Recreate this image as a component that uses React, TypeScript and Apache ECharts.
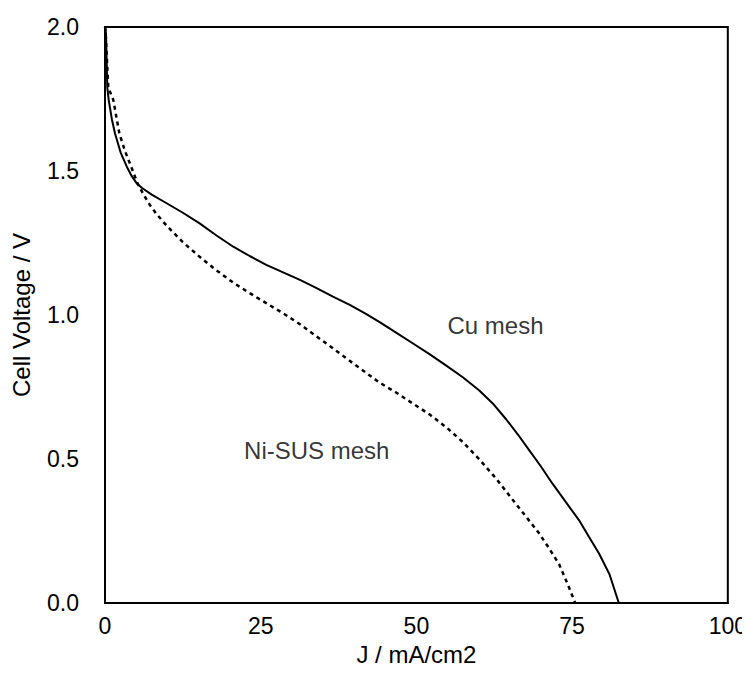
import React, { useEffect, useRef } from "react";
import * as echarts from "echarts";

const cuMesh: [number, number][] = [
  [0, 2.0], [0.16, 1.979], [0.37, 1.79], [0.59, 1.747], [1.1, 1.68], [1.6, 1.631],
  [2.5, 1.565], [3.5, 1.515], [4.3, 1.482], [5.1, 1.457], [6.0, 1.44], [7.5, 1.418],
  [9.9, 1.388], [12.5, 1.355], [15.2, 1.318],
  [17.9, 1.276], [20.6, 1.237], [23.3, 1.204], [25.9, 1.174], [28.6, 1.148],
  [31.3, 1.122], [33.9, 1.094], [36.6, 1.064], [39.3, 1.035], [41.9, 1.004],
  [44.1, 0.975], [46.8, 0.938], [49.4, 0.902], [52.1, 0.864], [54.8, 0.824],
  [57.5, 0.783], [60.1, 0.738], [62.3, 0.692], [64.4, 0.638], [66.3, 0.585],
  [68.1, 0.531], [70.0, 0.474], [71.8, 0.416], [74.0, 0.35], [76.1, 0.288],
  [77.7, 0.23], [79.3, 0.173], [81.0, 0.1], [82.5, 0.0],
];

const niSusMesh: [number, number][] = [
  [0, 2.0], [0.08, 1.99], [0.53, 1.79], [1.33, 1.747], [2.3, 1.631], [3.2, 1.57],
  [4.2, 1.515], [5.2, 1.458], [6.1, 1.422], [7.2, 1.382], [8.3, 1.35], [9.9, 1.31],
  [12.5, 1.253], [15.2, 1.202], [17.9, 1.155], [20.6, 1.112], [23.3, 1.075],
  [25.9, 1.041], [28.6, 1.006], [31.3, 0.968], [33.7, 0.93], [36.1, 0.892],
  [40.1, 0.828], [44.1, 0.765], [46.8, 0.73], [49.4, 0.693], [52.1, 0.655],
  [54.8, 0.61], [57.5, 0.558], [60.1, 0.499], [62.8, 0.432], [65.4, 0.36],
  [67.6, 0.3], [69.7, 0.242], [71.3, 0.19], [72.9, 0.135], [74.2, 0.07], [75.5, 0.0],
];

const xTicks = [0, 25, 50, 75, 100];
const yTicks = [0, 0.5, 1.0, 1.5, 2.0];

const curveLabels = [
  { name: "Cu mesh", value: [62.7, 0.962] },
  { name: "Ni-SUS mesh", value: [34.0, 0.528] },
];

const FONT = "Liberation Sans, Arial, Helvetica, sans-serif";
const TEXT = "#000";

export default function App() {
  const ref = useRef<HTMLDivElement>(null);
  useEffect(() => {
    if (!ref.current) return;
    const chart = echarts.init(ref.current, null, { renderer: "svg" });
    chart.setOption({
      animation: false,
      backgroundColor: "#fff",
      textStyle: { fontFamily: FONT },
      grid: {
        left: 105,
        right: 21,
        top: 27,
        bottom: 70,
        show: true,
        borderColor: "#000",
        borderWidth: 2,
        backgroundColor: "transparent",
      },
      xAxis: {
        type: "value",
        min: xTicks[0],
        max: xTicks[xTicks.length - 1],
        interval: 25,
        name: "J / mA/cm2",
        nameLocation: "middle",
        nameGap: 39,
        nameTextStyle: { fontSize: 24, color: TEXT, fontFamily: FONT },
        axisLine: { show: true, lineStyle: { color: "#000", width: 2 } },
        axisTick: { show: false },
        splitLine: { show: false },
        axisLabel: { fontSize: 23, color: TEXT, margin: 11, fontFamily: FONT },
      },
      yAxis: {
        type: "value",
        min: yTicks[0],
        max: yTicks[yTicks.length - 1],
        interval: 0.5,
        name: "Cell Voltage / V",
        nameLocation: "middle",
        nameGap: 72,
        nameTextStyle: { fontSize: 24, color: TEXT, fontFamily: FONT },
        axisLine: { show: true, lineStyle: { color: "#000", width: 2 } },
        axisTick: { show: false },
        splitLine: { show: false },
        axisLabel: {
          fontSize: 23,
          color: TEXT,
          margin: 26,
          fontFamily: FONT,
          formatter: (v: number) => v.toFixed(1),
        },
      },
      series: [
        {
          name: "Cu mesh",
          type: "line",
          data: cuMesh,
          showSymbol: false,
          symbol: "none",
          smooth: false,
          lineStyle: { color: "#000", width: 2 },
        },
        {
          name: "Ni-SUS mesh",
          type: "line",
          data: niSusMesh,
          showSymbol: false,
          symbol: "none",
          smooth: false,
          lineStyle: { color: "#000", width: 2.5, type: [4, 4] },
        },
        {
          type: "scatter",
          data: curveLabels,
          symbolSize: 0,
          itemStyle: { color: "transparent" },
          label: {
            show: true,
            position: "inside",
            formatter: (p: any) => p.name,
            fontSize: 24,
            color: TEXT,
            fontFamily: FONT,
          },
          silent: true,
        },
      ],
    });
    return () => chart.dispose();
  }, []);
  return <div ref={ref} style={{ width: 750, height: 673, margin: -8 }} />;
}
